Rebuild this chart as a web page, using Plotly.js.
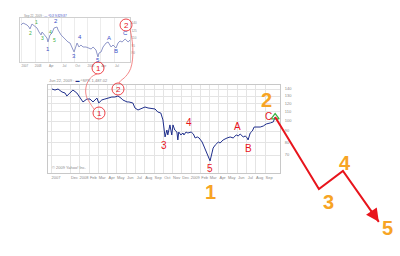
<!DOCTYPE html>
<html><head><meta charset="utf-8">
<script src="https://cdn.plot.ly/plotly-3.0.1.min.js"></script>
<style>html,body{margin:0;padding:0;background:#fff}#chart{width:400px;height:256px}</style>
</head><body><div id="chart"></div>
<script>
// ---- main chart series (index, log scale) ----
const mainDates = ['2007-10-01','2007-10-11','2007-10-21','2007-11-03','2007-11-13','2007-11-19','2007-11-29','2007-12-09','2007-12-22',
'2008-01-01','2008-01-11','2008-01-24','2008-02-03','2008-02-13','2008-02-26','2008-03-03','2008-03-13','2008-03-23','2008-04-02',
'2008-04-15','2008-04-25','2008-05-05','2008-05-15','2008-05-21','2008-06-04','2008-06-10','2008-06-23','2008-06-30','2008-07-10',
'2008-07-23','2008-08-02','2008-08-12','2008-08-25','2008-09-04','2008-09-13','2008-09-23','2008-09-30','2008-10-03','2008-10-07',
'2008-10-13','2008-10-16','2008-10-23','2008-10-29','2008-11-02','2008-11-08','2008-11-15','2008-11-18','2008-11-21','2008-11-28',
'2008-12-05','2008-12-08','2008-12-15','2008-12-21','2009-01-01','2009-01-08','2009-01-14','2009-01-21','2009-01-27','2009-02-06',
'2009-02-13','2009-02-19','2009-02-26','2009-03-04','2009-03-11','2009-03-14','2009-03-21','2009-03-27','2009-03-31','2009-04-06',
'2009-04-16','2009-04-29','2009-05-09','2009-05-19','2009-05-29','2009-06-05','2009-06-11','2009-06-21','2009-06-28','2009-07-04',
'2009-07-07','2009-07-14','2009-07-21','2009-07-27','2009-08-06','2009-08-16','2009-08-26','2009-09-05','2009-09-18','2009-09-28','2009-10-04'];
const mainValues = [140.0,138.5,140.0,135.7,134.2,130.1,134.2,138.5,134.2,
128.7,122.2,126.0,126.0,122.2,127.3,120.9,124.8,126.0,127.3,
128.7,128.7,130.1,127.3,124.8,122.2,122.2,120.9,114.7,112.3,
114.7,115.9,114.7,113.5,113.5,110.0,108.8,101.2,93.0,84.6,
91.0,86.4,96.0,86.4,96.0,91.0,89.1,82.0,89.1,86.4,
88.2,86.4,89.1,88.2,89.1,87.3,83.7,84.6,83.7,80.2,
76.1,72.2,67.9,65.8,72.2,75.3,77.7,79.4,80.2,79.4,
82.0,83.7,84.6,83.7,86.4,85.5,87.3,84.6,85.5,83.7,
82.0,88.2,90.1,93.9,93.9,93.9,94.9,97.0,98.0,99.1,104.3];

// ---- forecast path (wave 2 -> 3 -> 4 -> 5) ----
const fcDates = ['2009-10-04','2010-02-25','2010-05-15','2010-09-10'];
const fcValues = [104.3, 49.0, 59.2, 34.7];

// ---- inset chart series ----
const insetDates = ['2007-09-25','2007-10-09','2007-10-23','2007-11-06','2007-11-19','2007-11-26','2007-12-10','2007-12-24',
'2008-01-14','2008-01-28','2008-02-11','2008-02-18','2008-03-09','2008-03-23','2008-03-30','2008-04-13','2008-04-27','2008-05-11',
'2008-06-01','2008-06-08','2008-06-29','2008-07-12','2008-08-02','2008-08-16','2008-08-30','2008-09-13','2008-09-27','2008-10-18',
'2008-10-31','2008-11-14','2008-11-28','2008-12-19','2009-01-02','2009-01-23','2009-02-06','2009-02-26','2009-03-12','2009-03-19',
'2009-04-02','2009-04-16','2009-05-07','2009-05-21','2009-06-11','2009-06-24','2009-07-15','2009-07-29','2009-08-12','2009-08-26',
'2009-09-16','2009-10-07','2009-10-20'];
const insetValues = [136,140,138,136,132,128,138,134,
130,122,116,122,114,110,102,116,120,130,
132,126,116,112,106,102,100,90,82,100,
92,96,92,92,90,88,92,86,72,80,
82,92,100,102,92,96,90,100,104,102,
108,102,106];

// ---- tick labels ----
const mainTickDates = ['2007-10-01','2007-12-01','2008-01-01','2008-02-01','2008-03-01','2008-04-01','2008-05-01','2008-06-01','2008-07-01',
'2008-08-01','2008-09-01','2008-10-01','2008-11-01','2008-12-01','2009-01-01','2009-02-01','2009-03-01','2009-04-01','2009-05-01',
'2009-06-01','2009-07-01','2009-08-01','2009-09-01'];
const mainTickText = ['2007','Dec','2008','Feb','Mar','Apr','May','Jun','Jul','Aug','Sep','Oct','Nov','Dec','2009','Feb','Mar','Apr','May','Jun','Jul','Aug','Sep'];
const mainYTicks = [70,80,90,100,110,120,130,140];
const insetTickDates = ['2007-10-01','2008-01-01','2008-04-01','2008-07-01','2008-10-01','2009-01-01','2009-04-01','2009-07-01'];
const insetTickText = ['2007','2008','Apr','Jul','Oct','2009','Apr','Jul'];
const insetYTicks = [80,95,110,125,140];

// ---- wave labels ----
const redLabels = ['3','4','5','A','B','C'];
const orangeLabels = ['2','1','3','4','5'];
const insetBlueLabels = ['2','1','3','4','5','A','B','C'];
const insetGreenLabels = ['1','2','3','4','5'];

// ---- layout helpers (pixels -> paper) ----
const W = 400, H = 256;
const px = x => x / W, py = y => 1 - y / H;
const P = (x, y) => px(x).toFixed(4) + ',' + py(y).toFixed(4);

const mainRange = ['2007-09-18', '2009-10-20'];
const mainDomX = [px(48), px(280)];
const mainYRange = [1.763, 2.1644];
const mainDomY = [py(173), py(85)];
// overlay axes sharing the main chart scale but spanning the whole figure
const t0 = Date.parse(mainRange[0]), t1 = Date.parse(mainRange[1]);
const spanT = (t1 - t0) / (mainDomX[1] - mainDomX[0]);
const ovT0 = t0 - mainDomX[0] * spanT, ovT1 = ovT0 + spanT;
const iso = t => new Date(t).toISOString().slice(0, 19).replace('T', ' ');
const spanY = (mainYRange[1] - mainYRange[0]) / (mainDomY[1] - mainDomY[0]);
const ovY0 = mainYRange[0] - mainDomY[0] * spanY, ovY1 = ovY0 + spanY;

const RED = '#e8141c', ORANGE = '#f7a424', NAVY = '#1f2f8c', GRID = '#e4e4e4', TXT = '#8a8a8a';

const traces = [
  {x: insetDates, y: insetValues, xaxis: 'x2', yaxis: 'y2', type: 'scatter', mode: 'lines',
   line: {color: '#8f97c9', width: 1}, hoverinfo: 'skip'},
  {x: mainDates, y: mainValues, xaxis: 'x', yaxis: 'y', type: 'scatter', mode: 'lines',
   line: {color: NAVY, width: 1}, hoverinfo: 'skip'},
  {x: [mainDates[mainDates.length - 1]], y: [mainValues[mainValues.length - 1]], xaxis: 'x', yaxis: 'y',
   type: 'scatter', mode: 'markers', cliponaxis: false,
   marker: {symbol: 'triangle-up-open', size: 7, color: '#3cb043', line: {width: 1.2}}, hoverinfo: 'skip'},
  {x: fcDates, y: fcValues, xaxis: 'x3', yaxis: 'y3', type: 'scatter', mode: 'lines', cliponaxis: false,
   line: {color: RED, width: 2}, hoverinfo: 'skip'}
];

const ann = [];
function addText(t, x, y, size, color, opts) {
  ann.push(Object.assign({text: t, x: px(x), y: py(y), xref: 'paper', yref: 'paper', showarrow: false,
    xanchor: 'center', yanchor: 'middle',
    font: {family: 'Liberation Sans, Arial, sans-serif', size: size, color: color}}, opts || {}));
}
const redPos = [[164,145],[189,122],[210,168],[237,126],[248,148],[268,116]];
redLabels.forEach((t, i) => addText(t, redPos[i][0], redPos[i][1], 10, RED));
const orPos = [[266,100],[210,192],[328,202],[345,163],[387,228]];
orangeLabels.forEach((t, i) => addText('<b>' + t + '</b>', orPos[i][0], orPos[i][1], 20, ORANGE));
const bluePos = [[56,21],[48,49],[74,56],[80,37],[98,60],[109,38],[116,51],[125,33]];
insetBlueLabels.forEach((t, i) => addText(t, bluePos[i][0], bluePos[i][1], 6, '#3a4fc8'));
const greenPos = [[36,22],[30,33],[42,38],[50,32],[54,40]];
insetGreenLabels.forEach((t, i) => addText(t, greenPos[i][0], greenPos[i][1], 5, '#3cb043'));
// circled labels
const circ = [['1',98,68],['2',126,25],['1',99,113],['2',118,89]];
circ.forEach(c => addText(c[0], c[1], c[2] + 0.5, 8, RED));
// small legend/captions
addText('Sep 22, 2009 : <span style="color:#3a4fc8">— ^DJI 9,829.87</span>', 22, 16, 3, TXT, {xanchor: 'left'});
addText('Jun 22, 2009 : <span style="color:#1f2f8c">▬</span> ^SPX 1,487.02', 47, 80, 4, TXT, {xanchor: 'left'});
addText('© 2009 Yahoo! Inc.', 50, 167, 4, TXT, {xanchor: 'left'});
// arrowhead at the end of the forecast path (points along the last segment)
ann.push({x: fcDates[3], y: Math.log10(fcValues[3]), xref: 'x3', yref: 'y3', text: '', showarrow: true,
  arrowhead: 2, arrowsize: 1.3, arrowwidth: 2, arrowcolor: RED, ax: -9, ay: -13, standoff: 0});

const shapes = [];
circ.forEach(c => shapes.push({type: 'circle', xref: 'paper', yref: 'paper',
  x0: px(c[1] - 6), x1: px(c[1] + 6), y0: py(c[2] + 6), y1: py(c[2] - 6),
  line: {color: RED, width: 0.8}}));
shapes.push({type: 'path', xref: 'paper', yref: 'paper', line: {color: '#f06a6a', width: 0.8},
  path: 'M' + P(97, 74) + ' C' + P(86, 77) + ' ' + P(83, 92) + ' ' + P(88, 100) + ' S' + P(92, 106) + ' ' + P(94, 109)});
shapes.push({type: 'path', xref: 'paper', yref: 'paper', line: {color: '#f06a6a', width: 0.8},
  path: 'M' + P(130, 29) + ' C' + P(134, 45) + ' ' + P(134, 64) + ' ' + P(129, 72) + ' S' + P(121, 79) + ' ' + P(119, 83)});

const axFont = {family: 'Liberation Sans, Arial, sans-serif', size: 4, color: TXT};
const layout = {
  width: W, height: H, margin: {l: 0, r: 0, t: 0, b: 0, pad: 0},
  paper_bgcolor: '#ffffff', plot_bgcolor: 'rgba(0,0,0,0)', showlegend: false,
  xaxis: {domain: mainDomX, anchor: 'y', type: 'date', range: mainRange, tickmode: 'array',
    tickvals: mainTickDates, ticktext: mainTickText, tickfont: axFont, tickangle: 0, ticklabelshift: 4, ticks: '',
    showgrid: true, gridcolor: GRID, gridwidth: 1, showline: true, linecolor: '#c8c8c8', mirror: true, zeroline: false},
  yaxis: {domain: mainDomY, anchor: 'x', type: 'log', range: mainYRange, side: 'right', tickmode: 'array',
    tickvals: mainYTicks, ticktext: mainYTicks.map(String), tickfont: axFont, ticks: '', ticklabelstandoff: 3,
    showgrid: true, gridcolor: GRID, showline: true, linecolor: '#c8c8c8', mirror: true, zeroline: false},
  xaxis2: {domain: [px(20), px(130)], anchor: 'y2', type: 'date', range: mainRange, tickmode: 'array',
    tickvals: insetTickDates, ticktext: insetTickText, tickfont: {family: axFont.family, size: 3, color: TXT},
    tickangle: 0, ticklabelshift: 3, ticks: '', showgrid: true, gridcolor: '#ececec', showline: true, linecolor: '#d0d0d0',
    mirror: true, zeroline: false},
  yaxis2: {domain: [py(62), py(18)], anchor: 'x2', range: [62, 150], side: 'right', tickmode: 'array',
    tickvals: insetYTicks, ticktext: insetYTicks.map(String), tickfont: {family: axFont.family, size: 3, color: TXT},
    ticks: '', showgrid: false, showline: true, linecolor: '#d0d0d0', mirror: true, zeroline: false},
  xaxis3: {domain: [0, 1], anchor: 'y3', type: 'date', range: [iso(ovT0), iso(ovT1)], visible: false},
  yaxis3: {domain: [0, 1], anchor: 'x3', type: 'log', range: [ovY0, ovY1], visible: false},
  annotations: ann, shapes: shapes
};
Plotly.newPlot('chart', traces, layout, {staticPlot: true, displayModeBar: false});
</script></body></html>
